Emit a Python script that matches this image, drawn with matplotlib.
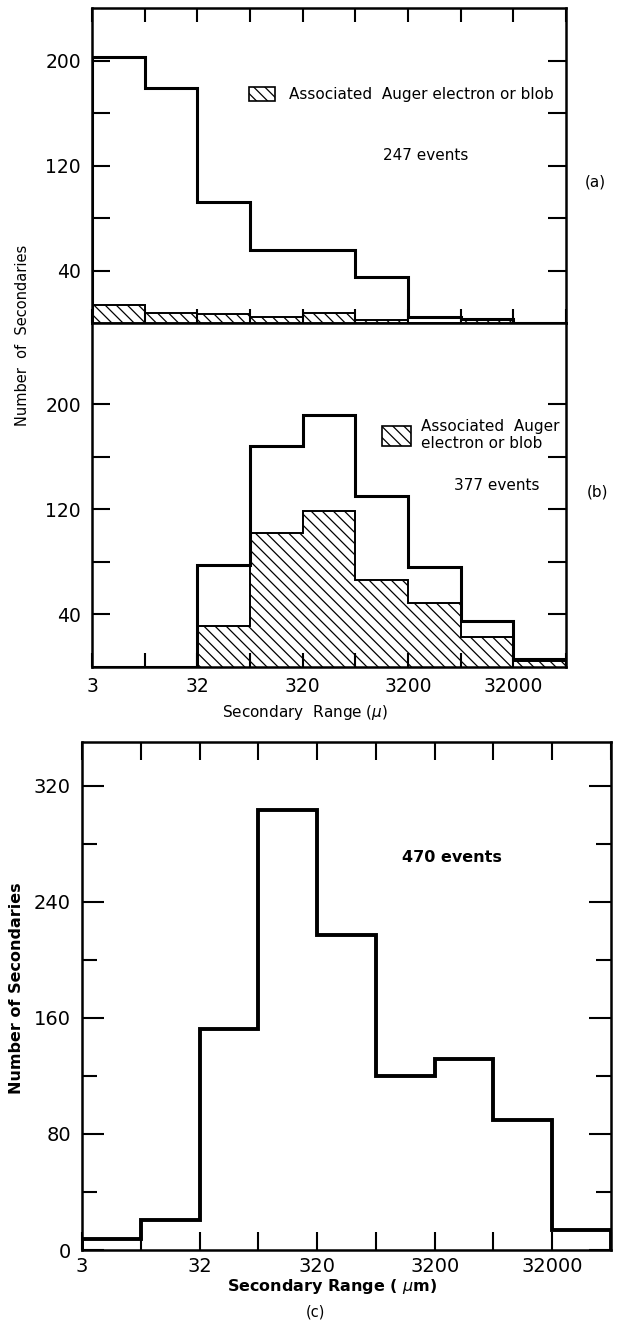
import numpy as np
import matplotlib.pyplot as plt
from matplotlib.patches import Patch

# half-decade bins of secondary range (microns)
bin_edges = [3.162, 10, 31.62, 100, 316.2, 1000, 3162, 10000, 31620, 100000]
x_labels = ['3', '', '32', '', '320', '', '3200', '', '32000', '']

# (a) 247 events
total_a = [203, 179, 92, 56, 56, 35, 4.6, 3.4, 0]
auger_a = [14, 7.8, 6.5, 4.3, 7.3, 2.5, 0, 3.4, 0]

# (b) 377 events
total_b = [0, 0, 78, 168, 192, 130, 76, 35, 6]
auger_b = [0, 0, 31, 102, 119, 66, 48.5, 22.5, 4.5]

# (c) 470 events
total_c = [7.4, 20.7, 152, 303, 217, 120, 131.5, 89.6, 13.5]

plt.rcParams['font.family'] = ['DejaVu Sans']
plt.rcParams['hatch.linewidth'] = 0.9

W, H = 617, 1330
fig = plt.figure(figsize=(W / 100, H / 100), dpi=100)


def px_axes(l, t, r, b):
    return fig.add_axes([l / W, 1 - b / H, (r - l) / W, (b - t) / H])


ax_a = px_axes(92, 8, 566, 323)
ax_b = px_axes(92, 323, 566, 667)
ax_c = px_axes(82, 742, 611, 1250)

hatch = '\\\\\\'

#draw the histograms
ax_a.stairs(auger_a, bin_edges, fill=True, facecolor='white', edgecolor='black',
            hatch=hatch, linewidth=1.4)
ax_a.stairs(total_a, bin_edges, color='black', linewidth=2.2)
ax_b.stairs(auger_b, bin_edges, fill=True, facecolor='white', edgecolor='black',
            hatch=hatch, linewidth=1.4)
ax_b.stairs(total_b, bin_edges, color='black', linewidth=2.2)
ax_c.stairs(total_c, bin_edges, color='black', linewidth=2.8)

for ax in (ax_a, ax_b, ax_c):
    ax.set_xscale('log')
    ax.minorticks_off()
    ax.set_xlim(bin_edges[0], bin_edges[-1])
    ax.set_xticks(bin_edges, x_labels)
    for s in ax.spines.values():
        s.set_linewidth(1.8)

#panels (a) and (b)
for ax in (ax_a, ax_b):
    ax.set_yticks([40, 80, 120, 160, 200], ['40', '', '120', '', '200'])
    ax.tick_params(axis='y', direction='in', left=True, right=True, length=13,
                   width=1.5, labelsize=13.5, pad=8)
ax_a.set_ylim(0, 240)
ax_b.set_ylim(0, 262)
ax_a.tick_params(axis='x', direction='in', top=True, bottom=True, length=10,
                 width=1.5, labelbottom=False)
ax_b.tick_params(axis='x', direction='in', top=False, bottom=True, length=10,
                 width=1.5, labelsize=13.5, pad=7)

ax_a.legend(handles=[Patch(facecolor='white', edgecolor='black', hatch=hatch, lw=1.2)],
            labels=['Associated  Auger electron or blob'], loc='center left',
            bbox_to_anchor=(0.332, 0.724), frameon=False, fontsize=11,
            handlelength=1.7, handleheight=1.0, handletextpad=0.9,
            borderpad=0, borderaxespad=0)
ax_a.text(0.705, 0.533, '247 events', transform=ax_a.transAxes, ha='center',
          va='center', fontsize=11)
ax_a.text(1.062, 0.448, '(a)', transform=ax_a.transAxes, ha='center', va='center',
          fontsize=11)

ax_b.legend(handles=[Patch(facecolor='white', edgecolor='black', hatch=hatch, lw=1.2)],
            labels=['Associated  Auger\nelectron or blob'], loc='center left',
            bbox_to_anchor=(0.611, 0.675), frameon=False, fontsize=11,
            handlelength=1.9, handleheight=1.6, handletextpad=0.7,
            borderpad=0, borderaxespad=0)
ax_b.text(0.853, 0.528, '377 events', transform=ax_b.transAxes, ha='center',
          va='center', fontsize=11)
ax_b.text(1.066, 0.508, '(b)', transform=ax_b.transAxes, ha='center', va='center',
          fontsize=11)
fig.text((92 + 0.45 * 474) / W, 1 - 713 / H, 'Secondary  Range ($\\mu$)',
         ha='center', va='center', fontsize=11)
fig.text(23 / W, 1 - 335 / H, 'Number  of  Secondaries', rotation=90,
         ha='center', va='center', fontsize=10.5)

#panel (c)
ax_c.set_ylim(0, 350)
ax_c.set_yticks([0, 80, 160, 240, 320])
ax_c.set_yticks([40, 120, 200, 280], minor=True)
ax_c.tick_params(axis='y', which='major', direction='in', left=True, right=True,
                 length=16, width=1.5, labelsize=14, pad=8)
ax_c.tick_params(axis='y', which='minor', direction='in', left=True, right=True,
                 length=11, width=1.5)
ax_c.tick_params(axis='x', direction='in', top=True, bottom=True, length=13,
                 width=1.5, labelsize=14, pad=5)
ax_c.text(0.70, 0.772, '470 events', transform=ax_c.transAxes, ha='center',
          va='center', fontsize=11.5, fontweight='bold')
fig.text((82 + 0.473 * 529) / W, 1 - 1286 / H, 'Secondary Range ( $\\mu$m)',
         ha='center', va='center', fontsize=11.5, fontweight='bold')
fig.text(17 / W, 1 - 988 / H, 'Number of Secondaries', rotation=90,
         ha='center', va='center', fontsize=11.5, fontweight='bold')
fig.text(315 / W, 1 - 1312 / H, '(c)', ha='center', va='center', fontsize=10.5)

plt.savefig('out.png', dpi=100)
